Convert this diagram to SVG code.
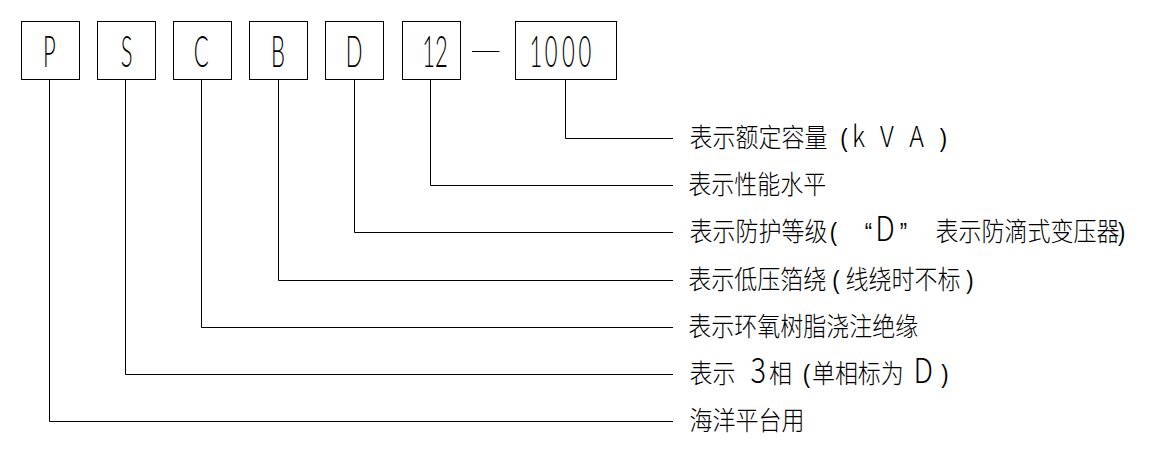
<svg xmlns="http://www.w3.org/2000/svg" width="1149" height="464" viewBox="0 0 1149 464">
<style>
rect.box { fill: #fff; stroke: #000; stroke-width: 1; }
.conn path, .sep { fill: none; stroke: #000; stroke-width: 1; }
.code { font-family: Lato, "Liberation Sans", sans-serif; font-weight: 300; font-size: 44px; fill: #000; text-anchor: middle; }
.lbl { font-family: "Noto Sans CJK SC", "Noto Sans CJK JP", sans-serif; font-weight: 300; font-size: 23px; fill: #000; }
.m { text-anchor: middle; }
.big { font-size: 29px; }
.lat { font-size: 25px; }
.p { font-family: "Liberation Sans", sans-serif; font-size: 22px; }
</style>
<rect width="1149" height="464" fill="#fff"/>
<g id="node-P"><rect class="box" x="21.5" y="21.5" width="58" height="58"/><text class="code" transform="translate(49.3 67) scale(0.5 1)">P</text></g>
<g id="node-S"><rect class="box" x="97.5" y="21.5" width="58" height="58"/><text class="code" transform="translate(126.7 67) scale(0.5 1)">S</text></g>
<g id="node-C"><rect class="box" x="173.5" y="21.5" width="58" height="58"/><text class="code" transform="translate(201.3 67) scale(0.5 1)">C</text></g>
<g id="node-B"><rect class="box" x="249.5" y="21.5" width="58" height="58"/><text class="code" transform="translate(278 67) scale(0.5 1)">B</text></g>
<g id="node-D"><rect class="box" x="325.5" y="21.5" width="58" height="58"/><text class="code" transform="translate(354 67) scale(0.5 1)">D</text></g>
<g id="node-12"><rect class="box" x="402.5" y="21.5" width="58" height="58"/><text class="code" transform="translate(435 67) scale(0.5 1)">12</text></g>
<g id="sep"><path class="sep" d="M472 51.5H499.5"/></g>
<g id="node-1000"><rect class="box" x="515.5" y="21.5" width="101" height="58"/><text class="code" transform="scale(0.5 1)" x="1072 1102.4 1136.6 1170" y="67">1000</text></g>
<g class="conn" id="connectors">
<path d="M565.5 79.5V138.5H673"/>
<path d="M430.5 79.5V185.5H673"/>
<path d="M354.5 79.5V232.5H673"/>
<path d="M278.5 79.5V280.5H673"/>
<path d="M201.5 79.5V327.5H673"/>
<path d="M125.5 79.5V374.5H673"/>
<path d="M49.5 79.5V421.5H673"/>
</g>
<g id="label-1"><text class="lbl" transform="translate(0 147) scale(1 1.16)" y="0"><tspan x="689.6">表示额定容量</tspan><tspan class="m p" x="844">(</tspan><tspan class="m lat" x="858.5">k</tspan><tspan class="m lat" x="887">V</tspan><tspan class="m lat" x="916.5">A</tspan><tspan class="m p" x="943.5">)</tspan></text></g>
<g id="label-2"><text class="lbl" transform="translate(0 194) scale(1 1.16)" y="0"><tspan x="688.3">表示性能水平</tspan></text></g>
<g id="label-3"><text class="lbl" transform="translate(0 241) scale(1 1.16)" y="0"><tspan x="689.6">表示防护等级</tspan><tspan class="m p" x="833.3">(</tspan><tspan class="m p" x="868.3">“</tspan><tspan class="m big" x="885">D</tspan><tspan class="m p" x="903.3">”</tspan><tspan x="935.6">表示防滴式变压器</tspan><tspan class="m p" x="1121.7">)</tspan></text></g>
<g id="label-4"><text class="lbl" transform="translate(0 289) scale(1 1.16)" y="0"><tspan x="688.3">表示低压箔绕</tspan><tspan class="m p" x="836">(</tspan><tspan x="845.6">线绕时不标</tspan><tspan class="m p" x="970">)</tspan></text></g>
<g id="label-5"><text class="lbl" transform="translate(0 336) scale(1 1.16)" y="0"><tspan x="688.3">表示环氧树脂浇注绝缘</tspan></text></g>
<g id="label-6"><text class="lbl" transform="translate(0 383) scale(1 1.16)" y="0"><tspan x="689.6">表示</tspan><tspan class="m big" x="758.3">3</tspan><tspan x="768.9">相</tspan><tspan class="m p" x="806.5">(</tspan><tspan x="811.9">单相标为</tspan><tspan class="m big" x="923.3">D</tspan><tspan class="m p" x="945">)</tspan></text></g>
<g id="label-7"><text class="lbl" transform="translate(0 430) scale(1 1.16)" y="0"><tspan x="689.6">海洋平台用</tspan></text></g>
</svg>
